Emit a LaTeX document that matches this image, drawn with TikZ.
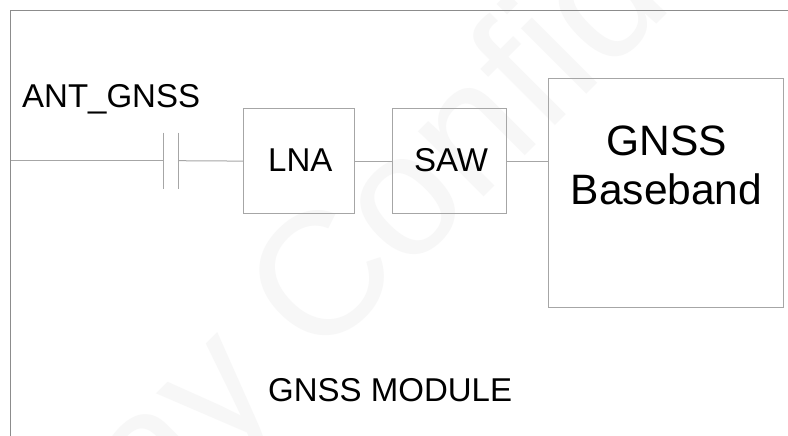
\documentclass[tikz,border=0pt]{standalone}
\usepackage{fontspec}
\setmainfont{Liberation Sans}
\definecolor{edge}{HTML}{8C8C8C}
\definecolor{boxedge}{HTML}{A6A6A6}
\definecolor{wm}{HTML}{F7F7F7}
\tikzset{
  x=1pt,y=-1pt,
  frameline/.style={draw=edge,line width=1pt},
  wire/.style={draw=boxedge,line width=1pt},
  blockbox/.style={draw=boxedge,line width=1pt,fill=none,inner sep=0pt,anchor=north west,align=center},
  smalltext/.style={font=\fontsize{33}{40}\selectfont},
  lbl/.style={inner sep=0pt,text=black,anchor=base west,smalltext},
}
\begin{document}
\begin{tikzpicture}
\useasboundingbox[fill=white] (0,0) rectangle (788,436);
\node[rotate=45,text=wm,inner sep=0pt,anchor=base west,font=\fontsize{175}{175}\selectfont] (mark) at (152.5,528.5) {ay Confid};
\coordinate (ftl) at (10.5,10.5);
\coordinate (ftr) at (788,10.5);
\coordinate (fbl) at (10.5,436);
\draw[frameline] (ftr) -- (ftl) -- (fbl);
\node[blockbox,minimum width=111pt,minimum height=104.2pt,smalltext,text depth=2.8pt] (lna) at (243.3,108.5) {\hspace{2pt}LNA};
\node[blockbox,minimum width=113.7pt,minimum height=104.2pt,smalltext,text depth=2.8pt] (saw) at (392.3,108.5) {\hspace{3pt}SAW};
\node[blockbox,minimum width=235pt,minimum height=229.3pt] (bb) at (547.7,77.7) {};
\node[inner sep=0pt,align=center,font=\fontsize{42.5}{49}\selectfont] (bbtext) at (666.5,165) {GNSS\\Baseband};
\coordinate (capa) at (163.3,160.7);
\coordinate (capb) at (178,160.7);
\coordinate (capat) at (163.3,132.7);
\coordinate (capab) at (163.3,188.7);
\coordinate (capbt) at (178,132.7);
\coordinate (capbb) at (178,188.7);
\coordinate (ant0) at (10.5,160.7);
\draw[wire] (ant0) -- (capa);
\draw[wire] (capat) -- (capab);
\draw[wire] (capbt) -- (capbb);
\draw[wire] (capb) -- (lna.west);
\draw[wire] (lna.east) -- (saw.west);
\draw[wire] (saw.east) -- (bb.west |- saw.east);
\node[lbl] (ant) at (22,107.7) {ANT\_GNSS};
\node[lbl] (mod) at (268,401) {GNSS MODULE};
\end{tikzpicture}
\end{document}
